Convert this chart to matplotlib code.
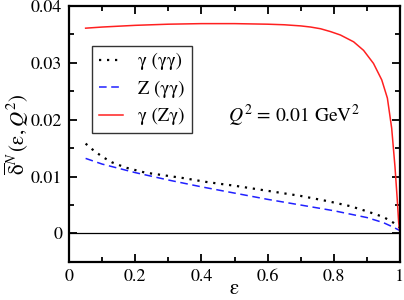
import matplotlib
matplotlib.use('Agg')
from matplotlib import pyplot as plt
from matplotlib.ticker import MultipleLocator

plt.rcParams['font.family'] = ['STIXGeneral', 'DejaVu Serif']
plt.rcParams['mathtext.fontset'] = 'stix'

# gamma (gamma gamma) - black dotted
eps_gg = [0.05, 0.07, 0.10, 0.13, 0.17, 0.23, 0.29, 0.35, 0.41, 0.46, 0.50,
          0.60, 0.70, 0.78, 0.85, 0.90, 0.95, 0.98, 1.0]
val_gg = [0.0158, 0.0148, 0.0135, 0.0125, 0.0116, 0.0107, 0.0102, 0.0097, 0.0091,
          0.0087, 0.0084, 0.0075, 0.0066, 0.0057, 0.0048, 0.0039, 0.0029, 0.0019, 0.0010]

# Z (gamma gamma) - blue dashed
eps_z = [0.05, 0.10, 0.20, 0.30, 0.40, 0.50, 0.60, 0.70, 0.80, 0.90, 0.95, 0.98, 1.0]
val_z = [0.0132, 0.0122, 0.0107, 0.0094, 0.0082, 0.0071, 0.0060, 0.0050, 0.0040,
         0.0028, 0.0019, 0.0011, 0.0005]

# gamma (Z gamma) - red solid
eps_zg = [0.05, 0.1, 0.2, 0.3, 0.4, 0.5, 0.6, 0.65, 0.7, 0.73, 0.76, 0.79, 0.82,
          0.86, 0.89, 0.92, 0.945, 0.962, 0.975, 0.985, 0.992, 0.996, 1.0]
val_zg = [0.0361, 0.0363, 0.0366, 0.0368, 0.0369, 0.0369, 0.0368, 0.0367, 0.0365,
          0.0363, 0.0360, 0.0355, 0.0349, 0.0337, 0.0322, 0.0299, 0.0270, 0.0238,
          0.0185, 0.0117, 0.0058, 0.0020, 0.0]

fig = plt.figure(figsize=(4.04, 3.0), dpi=100)
ax = fig.add_axes([0.171, 0.127, 0.819, 0.853])

ax.axhline(0, color='black', lw=0.9)
ax.plot(eps_gg, val_gg, color='black', ls=(0, (1, 2.6)), lw=1.6, label='γ (γγ)')
ax.plot(eps_z, val_z, color='#2020ff', ls=(0, (5, 3)), lw=1.1, label='Z (γγ)')
ax.plot(eps_zg, val_zg, color='#ff2020', lw=1.1, label='γ (Zγ)')

ax.set_xlim(0, 1)
ax.set_ylim(-0.005, 0.04)
ax.set_xticks([0, 0.2, 0.4, 0.6, 0.8, 1.0])
ax.set_xticklabels(['0', '0.2', '0.4', '0.6', '0.8', '1'])
ax.set_yticks([0, 0.01, 0.02, 0.03, 0.04])
ax.set_yticklabels(['0', '0.01', '0.02', '0.03', '0.04'])
ax.xaxis.set_minor_locator(MultipleLocator(0.1))
ax.yaxis.set_minor_locator(MultipleLocator(0.005))
ax.tick_params(which='both', direction='in', top=True, right=True, labelsize=13, width=1.3)
ax.tick_params(which='major', length=6, pad=5)
ax.tick_params(which='minor', length=3.5)
for s in ax.spines.values():
    s.set_linewidth(1.6)

ax.set_xlabel('ε', fontsize=15, labelpad=-4)
ax.set_ylabel(r'$\overline{\mathrm{\delta}}^{N}\,(\mathrm{\varepsilon},Q^{2})$', fontsize=15, labelpad=0)

ax.text(0.48, 0.0195, r'$Q^{2}$ = 0.01 GeV$^{2}$', fontsize=14)

leg = ax.legend(loc='upper left', bbox_to_anchor=(0.068, 0.845), fontsize=13.5,
                frameon=True, fancybox=False, edgecolor='black', handlelength=1.3,
                borderpad=0.4, labelspacing=0.54, handletextpad=0.8, borderaxespad=0)
leg.get_frame().set_linewidth(1.0)

fig.savefig('out.png', dpi=100)
